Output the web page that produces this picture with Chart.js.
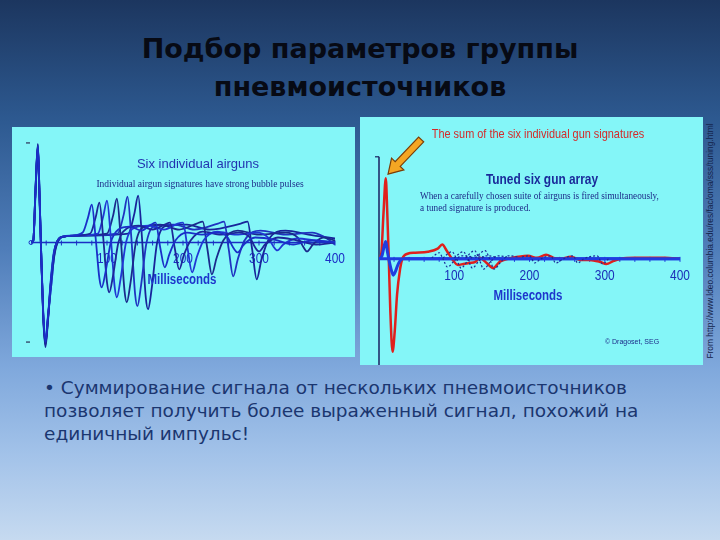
<!DOCTYPE html>
<html>
<head>
<meta charset="utf-8">
<script src="https://cdn.jsdelivr.net/npm/chart.js@4.4.0/dist/chart.umd.min.js"></script>
<style>
html, body { margin: 0; padding: 0; }
body {
    width: 720px; height: 540px; overflow: hidden; position: relative;
    background: linear-gradient(to bottom, #1c365f 0%, #2d5990 22%, #4f7db9 46%, #7fa8dc 68%, #a2c2e9 84%, #c6daf0 100%);
    font-family: Arial, "Liberation Sans", sans-serif;
}
.panel { position: absolute; background: #84f6f8; }
#left { left: 12px; top: 127px; width: 343px; height: 230px; }
#right { left: 360px; top: 117px; width: 343px; height: 248px; }
.panel canvas { position: absolute; left: 0; top: 0; }
.c { position: absolute; white-space: nowrap; transform: translate(-50%, -50%); }
.l { position: absolute; white-space: nowrap; transform-origin: 0 50%; }
#title {
    position: absolute; left: 0; top: 30px; width: 720px; text-align: center;
    font: bold 27px "DejaVu Sans", sans-serif; line-height: 38px; color: #070a14;
}
#bullet {
    position: absolute; left: 44px; top: 376px; width: 660px;
    font: 18.5px "DejaVu Sans", sans-serif; line-height: 23px; color: #1b3670;
}
#source {
    position: absolute; left: 585px; top: 236px; width: 250px; text-align: center;
    font: 8.4px Arial, sans-serif; color: #13234a; transform: rotate(-90deg);
    transform-origin: 125px 5px; white-space: nowrap;
}
</style>
</head>
<body>
<div id="title">Подбор параметров группы<br>пневмоисточников</div>

<div class="panel" id="left"><canvas id="chartLeft" width="343" height="230"></canvas></div>
<div class="panel" id="right"><canvas id="chartRight" width="343" height="248"></canvas></div>

<div class="c" style="left:198px; top:163px; font-size:13px; color:#2234b0;">Six individual airguns</div>
<div class="c" style="left:200px; top:184px; font:9.5px 'Liberation Serif', serif; color:#1d2a88;">Individual airgun signatures have strong bubble pulses</div>
<div class="c" style="left:182px; top:279px; font-weight:bold; font-size:14px; color:#1e36cc; transform:translate(-50%,-50%) scaleX(0.82);">Milliseconds</div>

<div class="c" style="left:538px; top:133px; font-size:13px; color:#d42a2a; transform:translate(-50%,-50%) scaleX(0.84);">The sum of the six individual gun signatures</div>
<div class="c" style="left:542px; top:179px; font-weight:bold; font-size:14px; color:#1a2a9a; transform:translate(-50%,-50%) scaleX(0.85);">Tuned six gun array</div>
<div class="l" style="left:420px; top:190px; font:10.5px 'Liberation Serif', serif; color:#1d2a88; transform:scaleX(0.88);">When a carefully chosen suite of airguns is fired simultaneously,</div>
<div class="l" style="left:420px; top:202px; font:10.5px 'Liberation Serif', serif; color:#1d2a88; transform:scaleX(0.88);">a tuned signature is produced.</div>
<div class="c" style="left:528px; top:295px; font-weight:bold; font-size:14px; color:#1e36cc; transform:translate(-50%,-50%) scaleX(0.82);">Milliseconds</div>
<div class="c" style="left:632px; top:341px; font-size:7px; color:#1d2a88;">© Dragoset, SEG</div>

<div id="bullet">• Суммирование сигнала от нескольких пневмоисточников<br>позволяет получить более выраженный сигнал, похожий на<br>единичный импульс!</div>

<div id="source">From http://www.ldeo.columbia.edu/res/fac/oma/sss/tuning.html</div>

<script>
// Time axis (ms) and tick labels
const xTickValues = [100, 200, 300, 400];
const xTickLabels = ['100', '200', '300', '400'];
const yTickValues = [1, -1];

// Six individual airgun signatures: [time ms, amplitude]
const gun1 = [[0,0],[3,0.02],[6,0.55],[9,0.97],[11,0.55],[13,0],[16,-0.7],[19,-1.0],[22,-0.78],[26,-0.38],[30,-0.1],[35,0.02],[42,0.06],[55,0.07],[68,0.1],[75,0.25],[80,0.38],[85,0.05],[90,-0.36],[93,-0.45],[98,-0.3],[105,0],[115,0.13],[130,0.16],[145,0.12],[158,0.18],[164,0.2],[170,-0.05],[176,-0.25],[182,-0.12],[190,0.02],[205,0.1],[225,0.08],[245,0.1],[258,0.06],[266,-0.05],[272,-0.1],[280,-0.02],[295,0.05],[320,0.03],[345,-0.02],[370,0.02],[400,0]];
const gun2 = [[0,0],[3,0.02],[6,0.52],[9,0.95],[11,0.5],[13,-0.02],[16,-0.72],[19,-1.03],[22,-0.8],[26,-0.42],[31,-0.12],[36,0.02],[44,0.06],[60,0.07],[78,0.09],[85,0.25],[90,0.4],[95,0.05],[100,-0.4],[103,-0.5],[108,-0.33],[115,0],[126,0.14],[142,0.17],[160,0.13],[176,0.18],[183,0.2],[189,-0.05],[195,-0.27],[201,-0.13],[210,0.02],[226,0.11],[250,0.08],[274,0.1],[288,0.05],[295,-0.05],[300,-0.09],[308,-0.02],[325,0.05],[350,0.02],[375,-0.02],[400,0]];
const gun3 = [[0,0],[3,0.01],[6,0.5],[9,0.96],[11,0.52],[13,0],[16,-0.68],[19,-0.98],[22,-0.76],[27,-0.4],[31,-0.1],[36,0.02],[44,0.06],[60,0.07],[88,0.09],[95,0.26],[100,0.42],[105,0.05],[110,-0.44],[113,-0.55],[118,-0.36],[125,0],[137,0.15],[155,0.17],[175,0.13],[193,0.19],[200,0.2],[206,-0.06],[212,-0.3],[218,-0.15],[227,0.02],[245,0.11],[270,0.08],[297,0.1],[312,0.05],[319,-0.04],[324,-0.08],[332,-0.02],[350,0.04],[375,0.02],[400,0]];
const gun4 = [[0,0],[3,0.02],[6,0.55],[9,0.98],[11,0.55],[13,0],[16,-0.72],[19,-1.02],[22,-0.8],[26,-0.4],[30,-0.12],[35,0.02],[43,0.06],[60,0.07],[100,0.09],[108,0.27],[113,0.44],[118,0.05],[123,-0.48],[126,-0.6],[131,-0.4],[138,0],[150,0.16],[170,0.18],[195,0.13],[218,0.19],[226,0.21],[232,-0.06],[238,-0.32],[244,-0.16],[253,0.02],[272,0.12],[300,0.08],[335,0.1],[351,0.05],[358,-0.04],[363,-0.09],[371,-0.02],[385,0.05],[400,0.02]];
const gun5 = [[0,0],[3,0.02],[6,0.53],[9,0.96],[11,0.5],[13,-0.02],[16,-0.7],[19,-1.0],[22,-0.78],[27,-0.4],[31,-0.1],[36,0.02],[44,0.06],[60,0.07],[114,0.09],[122,0.28],[127,0.46],[132,0.05],[137,-0.52],[140,-0.64],[145,-0.42],[152,0],[165,0.17],[188,0.18],[215,0.13],[246,0.19],[254,0.21],[260,-0.06],[266,-0.34],[272,-0.17],[281,0.02],[302,0.12],[335,0.08],[370,0.1],[385,0.06],[400,-0.02]];
const gun6 = [[0,0],[3,0.02],[6,0.55],[9,0.99],[11,0.55],[13,0],[16,-0.74],[19,-1.05],[22,-0.82],[26,-0.42],[30,-0.12],[35,0.02],[43,0.06],[60,0.07],[128,0.09],[136,0.29],[141,0.47],[146,0.05],[151,-0.55],[154,-0.67],[159,-0.45],[166,0],[180,0.17],[205,0.18],[235,0.13],[276,0.19],[285,0.21],[291,-0.07],[297,-0.37],[303,-0.18],[312,0.02],[335,0.12],[365,0.08],[400,0.04]];

// Tuned array: sum of the six signatures (red) and the tuned pulse (blue)
const sumSignature = [[0,0],[3,0.05],[6,0.45],[9,0.79],[11,0.45],[13,0],[15,-0.5],[18,-0.91],[21,-0.7],[24,-0.35],[28,-0.1],[31,0],[38,0.05],[48,0.06],[65,0.07],[78,0.1],[84,0.14],[90,0.08],[97,0],[105,-0.06],[112,-0.05],[120,-0.04],[128,-0.03],[134,0.01],[143,-0.04],[152,-0.09],[160,-0.03],[171,0],[185,0.02],[198,0.03],[210,0.01],[222,0.04],[232,0.01],[240,0],[255,0.02],[268,-0.01],[280,-0.01],[294,-0.03],[302,-0.05],[312,-0.02],[321,0],[340,0.01],[360,0.01],[380,0.01],[400,0]];
const tunedPulse = [[0,0],[4,0.03],[7,0.13],[9,0.17],[11,0.08],[13,0],[16,-0.1],[19,-0.16],[22,-0.12],[25,-0.06],[28,-0.02],[32,0],[400,0]];

// Faint dotted bubble pulses in the tuned panel
const dotA = [[70,0.01],[80,0.06],[85,0],[91,-0.08],[100,-0.02],[110,0.03],[125,0.02]];
const dotB = [[85,0.01],[97,0.07],[103,0],[109,-0.09],[118,-0.02],[128,0.03],[140,0.02]];
const dotC = [[100,0.01],[112,0.07],[118,0],[124,-0.09],[133,-0.02],[143,0.03],[155,0.02]];
const dotD = [[115,0.01],[127,0.08],[133,0],[139,-0.1],[148,-0.03],[158,0.03],[170,0.02]];
const dotE = [[128,0.01],[141,0.08],[147,0],[153,-0.1],[162,-0.03],[172,0.03],[185,0.02]];
const dotF = [[190,0.02],[200,0.03],[207,-0.04],[215,0],[228,0.03],[235,-0.04],[245,0],[258,0.03],[264,-0.04],[272,0],[290,0.03],[297,-0.05],[305,0]];

// Arrow pointing at the sum peak (data coordinates: tail, tip)
const arrowTail = [56, 1.17];
const arrowTip = [12, 0.83];

const toXY = arr => arr.map(p => ({ x: p[0], y: p[1] }));

// Draws axis lines, ticks and labels from the chart's own scales
const axesPlugin = {
    id: 'axes',
    beforeDatasetsDraw(chart, args, o) {
        const ctx = chart.ctx;
        const xs = chart.scales.x, ys = chart.scales.y;
        const x0 = xs.getPixelForValue(0), x1 = xs.getPixelForValue(400);
        const y0 = ys.getPixelForValue(0);
        ctx.save();
        // y axis
        if (o.yLine) {
            ctx.strokeStyle = o.yColor; ctx.lineWidth = 1.5;
            ctx.beginPath();
            ctx.moveTo(x0, ys.getPixelForValue(1));
            ctx.lineTo(x0, chart.chartArea.bottom);
            ctx.stroke();
        }
        ctx.strokeStyle = o.yColor; ctx.lineWidth = 1.2;
        o.yTicks.forEach(v => {
            const y = ys.getPixelForValue(v);
            ctx.beginPath();
            ctx.moveTo(x0 - o.yTickOff - 4, y);
            ctx.lineTo(x0 - o.yTickOff, y);
            ctx.stroke();
        });
        // x axis along zero
        ctx.strokeStyle = o.xColor; ctx.lineWidth = o.xWidth;
        ctx.beginPath(); ctx.moveTo(x0, y0); ctx.lineTo(x1, y0); ctx.stroke();
        ctx.lineWidth = 1;
        for (let t = 20; t <= 400; t += 20) {
            const x = xs.getPixelForValue(t);
            ctx.beginPath(); ctx.moveTo(x, y0 - 2); ctx.lineTo(x, y0 + 3); ctx.stroke();
        }
        if (o.originDot) {
            ctx.beginPath(); ctx.arc(x0, y0, 2, 0, Math.PI * 2); ctx.stroke();
        }
        // tick labels
        ctx.fillStyle = o.labelColor;
        ctx.font = '14px Arial';
        ctx.textAlign = 'center'; ctx.textBaseline = 'middle';
        xTickValues.forEach((v, i) => {
            ctx.save();
            ctx.translate(xs.getPixelForValue(v), y0 + o.labelDy);
            ctx.scale(0.85, 1);
            ctx.fillText(xTickLabels[i], 0, 0);
            ctx.restore();
        });
        ctx.restore();
    },
    afterDatasetsDraw(chart, args, o) {
        if (!o.arrow) return;
        const ctx = chart.ctx;
        const xs = chart.scales.x, ys = chart.scales.y;
        const ax = xs.getPixelForValue(arrowTail[0]), ay = ys.getPixelForValue(arrowTail[1]);
        const bx = xs.getPixelForValue(arrowTip[0]), by = ys.getPixelForValue(arrowTip[1]);
        const ang = Math.atan2(by - ay, bx - ax);
        const len = Math.hypot(bx - ax, by - ay);
        ctx.save();
        ctx.translate(ax, ay); ctx.rotate(ang);
        ctx.beginPath();
        ctx.moveTo(0, -3.5); ctx.lineTo(len - 14, -3.5); ctx.lineTo(len - 14, -8.5);
        ctx.lineTo(len, 0);
        ctx.lineTo(len - 14, 8.5); ctx.lineTo(len - 14, 3.5); ctx.lineTo(0, 3.5);
        ctx.closePath();
        ctx.fillStyle = '#f4a623'; ctx.fill();
        ctx.strokeStyle = '#7a3d08'; ctx.lineWidth = 1.2; ctx.stroke();
        ctx.restore();
    }
};

const baseOptions = (padding, ymin, ymax, axes) => ({
    responsive: false,
    animation: false,
    layout: { padding },
    scales: {
        x: { type: 'linear', min: 0, max: 400, display: false },
        y: { type: 'linear', min: ymin, max: ymax, display: false }
    },
    elements: { point: { radius: 0 }, line: { cubicInterpolationMode: 'monotone' } },
    plugins: { legend: { display: false }, tooltip: { enabled: false }, axes }
});

const gunColors = ['#1a2fc8', '#1d2699', '#2038d4', '#1a2a8c', '#1f33c0', '#18249a'];
const guns = [gun1, gun2, gun3, gun4, gun5, gun6];

new Chart(document.getElementById('chartLeft'), {
    type: 'line',
    data: {
        datasets: guns.map((g, i) => ({
            data: toXY(g), borderColor: gunColors[i], borderWidth: 1.8, fill: false
        }))
    },
    options: baseOptions({ left: 19, right: 20, top: 0, bottom: 0 }, -1.15, 1.16, {
        yLine: false, yColor: '#2a2f55', yTicks: yTickValues, yTickOff: 1,
        xColor: '#1b2fc4', xWidth: 1.5, originDot: true,
        labelColor: '#1c2fc6', labelDy: 17, arrow: false
    }),
    plugins: [axesPlugin]
});

const dotted = [dotA, dotB, dotC, dotD, dotE, dotF];
new Chart(document.getElementById('chartRight'), {
    type: 'line',
    data: {
        datasets: [
            ...dotted.map(d => ({
                data: toXY(d), borderColor: '#1a2a9a', borderWidth: 1.2, borderDash: [2, 2], fill: false
            })),
            { data: toXY(tunedPulse), borderColor: '#1f3de0', borderWidth: 3, fill: false },
            { data: toXY(sumSignature), borderColor: '#e0201c', borderWidth: 2.5, fill: false }
        ]
    },
    options: baseOptions({ left: 19, right: 23, top: 0, bottom: 0 }, -1.04, 1.39, {
        yLine: true, yColor: '#1a2060', yTicks: [1], yTickOff: 0,
        xColor: '#1f3de0', xWidth: 3, originDot: false,
        labelColor: '#1c2fb8', labelDy: 17, arrow: true
    }),
    plugins: [axesPlugin]
});
</script>
</body>
</html>
